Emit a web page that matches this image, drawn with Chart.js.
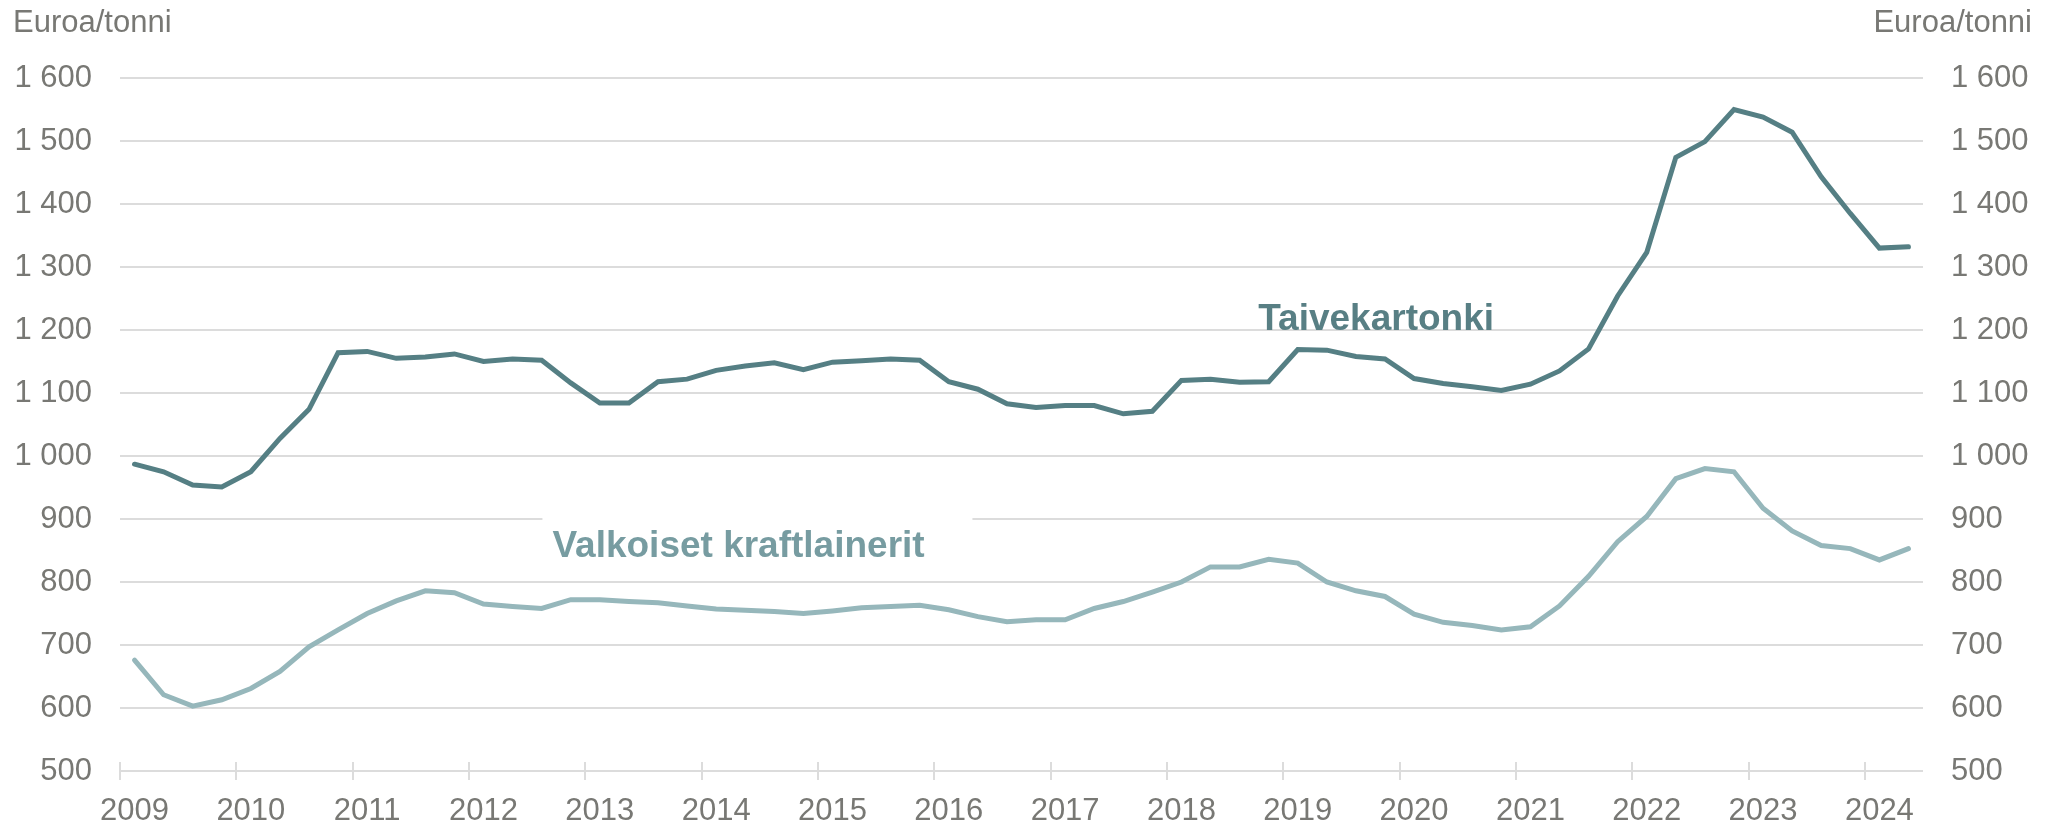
<!DOCTYPE html>
<html>
<head>
<meta charset="utf-8">
<script src="https://cdn.jsdelivr.net/npm/chart.js@4.4.1/dist/chart.umd.min.js"></script>
<style>
  html, body { margin: 0; padding: 0; background: #ffffff; }
  #wrap { width: 2049px; height: 824px; }
</style>
</head>
<body>
<div id="wrap"><canvas id="c" width="2049" height="824"></canvas></div>
<script>
// ---- Data (quarterly, 2009 Q1 – 2024 Q2) ----
const years = [2009, 2010, 2011, 2012, 2013, 2014, 2015, 2016, 2017, 2018, 2019, 2020, 2021, 2022, 2023, 2024];
const quarterNames = ['Q1', 'Q2', 'Q3', 'Q4'];
const categories = years.flatMap(y => quarterNames.map(q => y + ' ' + q)).slice(0, 62);

const seriesNames = ['Taivekartonki', 'Valkoiset kraftlainerit'];

const taivekartonki = [
  987, 975, 954, 951, 975, 1028, 1074, 1164,
  1166, 1155, 1157, 1162, 1150, 1154, 1152, 1116,
  1084, 1084, 1118, 1122, 1136, 1143, 1148, 1137,
  1149, 1151, 1154, 1152, 1118, 1106, 1083, 1077,
  1080, 1080, 1067, 1071, 1120, 1122, 1117, 1118,
  1169, 1168, 1158, 1154, 1123, 1115, 1110, 1104,
  1114, 1135, 1170, 1254, 1323, 1474, 1499, 1550,
  1538, 1514, 1443, 1385, 1330, 1332
];

const valkoisetKraftlainerit = [
  676, 621, 603, 613, 631, 658, 697, 724,
  750, 770, 786, 783, 765, 761, 758, 772,
  772, 769, 767, 762, 757, 755, 753, 750,
  754, 759, 761, 763, 756, 745, 737, 740,
  740, 758, 769, 784, 800, 824, 824, 836,
  830, 800, 786, 777, 749, 736, 731, 724,
  729, 762, 809, 864, 904, 964, 980, 975,
  917, 881, 858, 853, 835, 853
];

const yTicks = [500, 600, 700, 800, 900, 1000, 1100, 1200, 1300, 1400, 1500, 1600];
const unitLabel = 'Euroa/tonni';

// ---- Styling ----
const FONT = "'Liberation Sans', Arial, Helvetica, sans-serif";
const GRID = '#dcdcdc';
const TEXT = '#787874';
const DARK = '#557f84';
const LIGHT = '#96b7bb';

function fmt(v) {
  if (v >= 1000) return Math.floor(v / 1000) + ' ' + String(v % 1000).padStart(3, '0');
  return String(v);
}

// annotations anchored in data space (category index, value)
const annotations = [
  { text: seriesNames[0], x: 38.64, y: 1200, color: '#587f84', box: false },
  { text: seriesNames[1], x: 14.37, y: 840, color: '#779ca1', box: true }
];

const extrasPlugin = {
  id: 'extras',
  beforeDatasetsDraw(chart) {
    const ctx = chart.ctx;
    const xs = chart.scales.x, ys = chart.scales.y;
    const area = chart.chartArea;
    ctx.save();
    // year tick marks crossing the bottom axis line
    ctx.strokeStyle = GRID;
    ctx.lineWidth = 2;
    categories.forEach((c, i) => {
      if (c.endsWith('Q1')) {
        const x = Math.round(xs.getPixelForValue(i - 0.5));
        ctx.beginPath();
        ctx.moveTo(x, area.bottom - 9);
        ctx.lineTo(x, area.bottom + 9);
        ctx.stroke();
      }
    });
    // series labels
    ctx.font = 'bold 37px ' + FONT;
    ctx.textAlign = 'left';
    ctx.textBaseline = 'alphabetic';
    annotations.forEach(a => {
      const x = xs.getPixelForValue(a.x);
      const y = ys.getPixelForValue(a.y);
      if (a.box) {
        ctx.fillStyle = '#ffffff';
        ctx.fillRect(x - 10, y - 42, 430, 56);
      }
      ctx.fillStyle = a.color;
      ctx.fillText(a.text, x, y);
    });
    ctx.restore();
  },
  afterDraw(chart) {
    const ctx = chart.ctx;
    ctx.save();
    ctx.font = '31px ' + FONT;
    ctx.fillStyle = TEXT;
    ctx.textBaseline = 'alphabetic';
    ctx.textAlign = 'left';
    ctx.fillText(unitLabel, 13, 32);
    ctx.textAlign = 'right';
    ctx.fillText(unitLabel, 2032, 32);
    ctx.restore();
  }
};

Chart.defaults.font.family = FONT;
Chart.defaults.color = TEXT;

new Chart(document.getElementById('c'), {
  type: 'line',
  data: {
    labels: categories,
    datasets: [
      {
        label: seriesNames[1],
        data: valkoisetKraftlainerit,
        borderColor: LIGHT,
        borderWidth: 5,
        pointRadius: 0,
        tension: 0,
        borderCapStyle: 'round',
        yAxisID: 'y'
      },
      {
        label: seriesNames[0],
        data: taivekartonki,
        borderColor: DARK,
        borderWidth: 5,
        pointRadius: 0,
        tension: 0,
        borderCapStyle: 'round',
        yAxisID: 'y'
      }
    ]
  },
  options: {
    responsive: false,
    devicePixelRatio: 1,
    animation: false,
    layout: { padding: { top: 78, left: 0, right: 0, bottom: 0 } },
    plugins: { legend: { display: false }, tooltip: { enabled: false } },
    scales: {
      x: {
        type: 'category',
        offset: true,
        grid: { display: false },
        border: { display: false },
        ticks: {
          autoSkip: false,
          maxRotation: 0,
          padding: 14,
          font: { size: 31 },
          color: TEXT,
          callback: (v, i) => categories[i].endsWith('Q1') ? categories[i].slice(0, 4) : ''
        },
        afterFit: s => { s.height = 53; }
      },
      y: {
        position: 'left',
        min: 500, max: 1600,
        afterBuildTicks: s => { s.ticks = yTicks.map(v => ({ value: v })); },
        grid: { color: GRID, lineWidth: 2, drawTicks: false },
        border: { display: false },
        ticks: { padding: 28, font: { size: 31 }, color: TEXT, callback: v => fmt(v) },
        afterFit: s => { s.width = 120; }
      },
      y1: {
        position: 'right',
        min: 500, max: 1600,
        afterBuildTicks: s => { s.ticks = yTicks.map(v => ({ value: v })); },
        grid: { display: false, drawTicks: false },
        border: { display: false },
        ticks: { padding: 28, font: { size: 31 }, color: TEXT, callback: v => fmt(v) },
        afterFit: s => { s.width = 126; }
      }
    }
  },
  plugins: [extrasPlugin]
});
</script>
</body>
</html>
